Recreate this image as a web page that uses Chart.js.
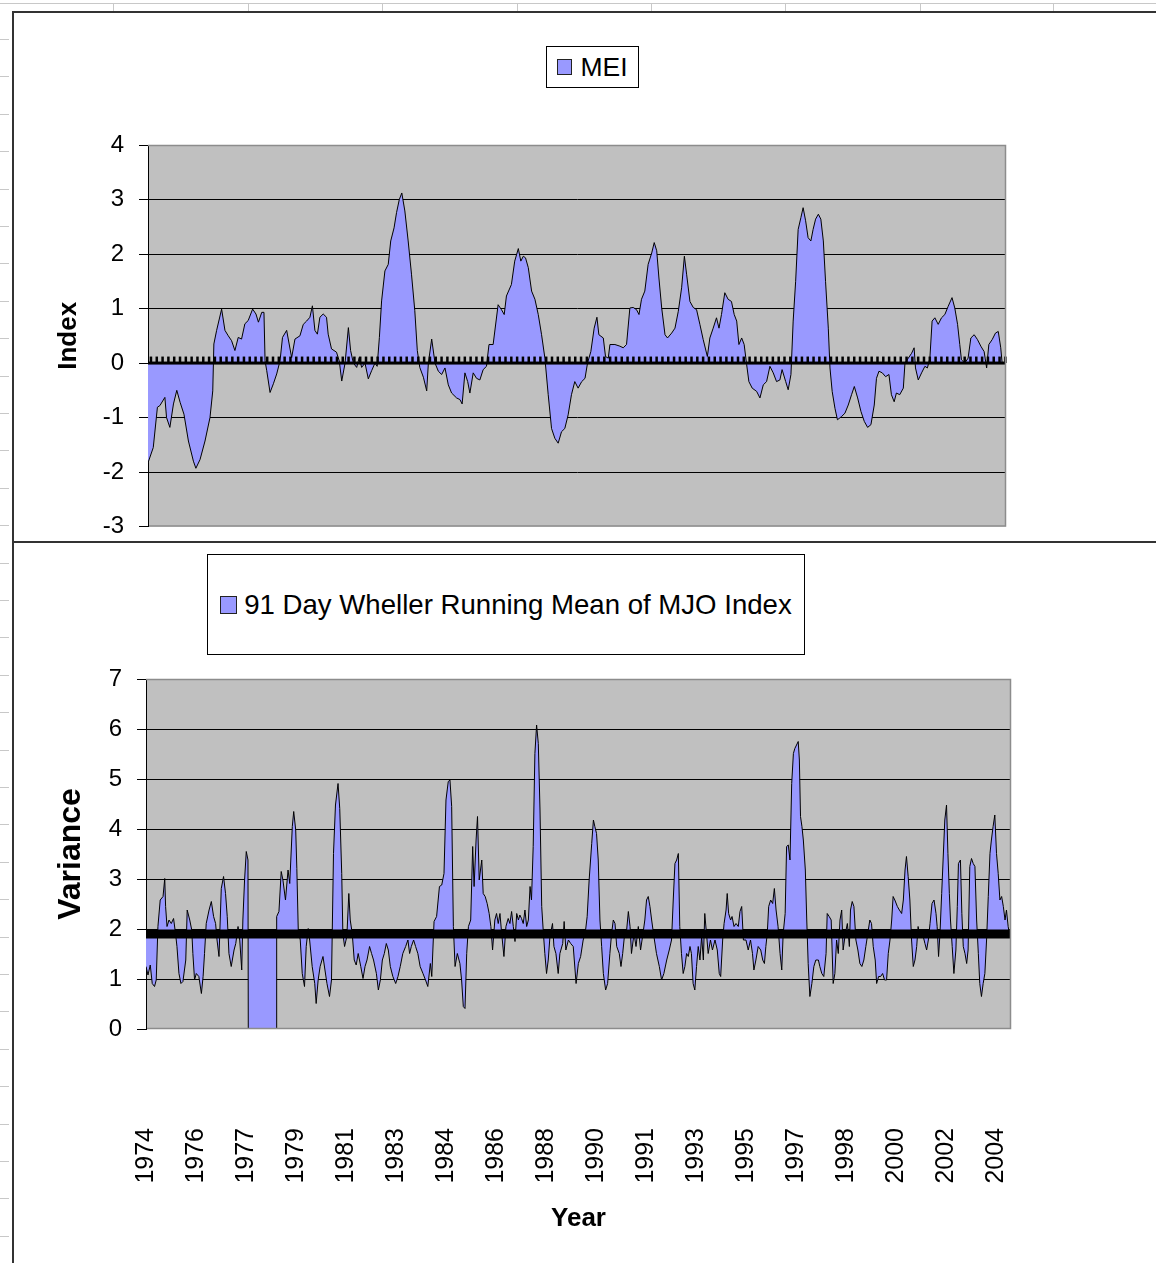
<!DOCTYPE html>
<html>
<head>
<meta charset="utf-8">
<script src="https://cdn.jsdelivr.net/npm/chart.js@4"></script>
<style>
  html, body { margin:0; padding:0; background:#fff; }
  body { width:1156px; height:1263px; position:relative; overflow:hidden; font-family:'Liberation Sans', Arial, sans-serif; }
  .abs { position:absolute; }
  .legend { position:absolute; box-sizing:border-box; border:1.5px solid #000; background:#fff;
            display:flex; align-items:center; justify-content:center; color:#000; white-space:nowrap; }
  .sw { box-sizing:border-box; border:1.5px solid #222; background:#9999FF; flex:none; }
</style>
</head>
<body>
<!-- spreadsheet background lines -->
<div class="abs" style="left:0;top:3px;width:1156px;height:1px;background:#c8c8c8"></div>
<div id="cols"></div>
<div class="abs" style="left:0;top:39px;width:9px;height:1224px;background:repeating-linear-gradient(to bottom,#c8c8c8 0px,#c8c8c8 1px,transparent 1px,transparent 37.4px)"></div>
<!-- chart frames -->
<div class="abs" style="left:12px;top:11px;width:1144px;height:2px;background:#333"></div>
<div class="abs" style="left:12px;top:11px;width:2px;height:1252px;background:#333"></div>
<div class="abs" style="left:12px;top:541px;width:1144px;height:2px;background:#333"></div>

<canvas id="mei" class="abs" style="left:14px;top:13px" width="1142" height="543"></canvas>
<canvas id="mjo" class="abs" style="left:14px;top:543px" width="1142" height="720"></canvas>

<div class="legend" style="left:546px;top:46px;width:93px;height:42px;font-size:26.5px;gap:8px">
  <div class="sw" style="width:15px;height:16px"></div><span>MEI</span>
</div>
<div class="legend" style="left:207px;top:554px;width:598px;height:101px;font-size:27.6px;gap:7px">
  <div class="sw" style="width:17px;height:18px"></div><span>91 Day Wheller Running Mean of MJO Index</span>
</div>

<script>
// ---------------- DATA ----------------
// MEI (top chart): decimal year and index value
const meiYears = [
1974.00,1974.19,1974.34,1974.43,1974.61,1974.67,1974.79,1974.92,1975.04,1975.16,1975.30,1975.46,1975.64,1975.73,1975.88,
1976.06,1976.24,1976.34,1976.38,1976.48,1976.66,1976.78,1976.90,1977.02,1977.14,1977.26,1977.38,1977.50,1977.62,1977.78,
1977.90,1977.99,1978.11,1978.19,1978.23,1978.29,1978.41,1978.53,1978.65,1978.77,1978.86,1979.01,1979.10,1979.19,1979.31,
1979.49,1979.61,1979.73,1979.85,1979.94,1980.03,1980.12,1980.21,1980.33,1980.45,1980.51,1980.63,1980.81,1980.91,1981.00,
1981.12,1981.24,1981.32,1981.42,1981.54,1981.63,1981.72,1981.84,1981.96,1982.08,1982.20,1982.28,1982.36,1982.44,1982.56,
1982.68,1982.77,1982.89,1982.98,1983.08,1983.17,1983.28,1983.40,1983.52,1983.64,1983.73,1983.82,1983.95,1984.07,1984.13,
1984.25,1984.37,1984.49,1984.61,1984.73,1984.85,1984.97,1985.15,1985.27,1985.35,1985.45,1985.55,1985.63,1985.75,1985.87,
1985.99,1986.11,1986.23,1986.32,1986.47,1986.65,1986.77,1986.87,1986.95,1987.13,1987.25,1987.38,1987.47,1987.56,1987.64,
1987.74,1987.86,1987.98,1988.10,1988.22,1988.34,1988.46,1988.58,1988.70,1988.82,1988.94,1989.06,1989.18,1989.30,1989.42,
1989.54,1989.67,1989.79,1989.88,1990.00,1990.12,1990.22,1990.29,1990.45,1990.53,1990.63,1990.69,1990.87,1991.05,1991.17,
1991.29,1991.41,1991.53,1991.65,1991.74,1991.83,1991.95,1992.07,1992.20,1992.29,1992.38,1992.46,1992.56,1992.68,1992.77,
1992.92,1993.04,1993.16,1993.28,1993.38,1993.46,1993.58,1993.70,1993.82,1993.94,1994.06,1994.21,1994.30,1994.42,1994.54,
1994.63,1994.72,1994.84,1994.96,1995.08,1995.18,1995.27,1995.35,1995.45,1995.54,1995.63,1995.71,1995.83,1995.99,1996.11,
1996.23,1996.35,1996.47,1996.59,1996.71,1996.83,1996.91,1997.04,1997.13,1997.23,1997.31,1997.40,1997.49,1997.59,1997.67,
1997.76,1997.85,1997.95,1998.03,1998.12,1998.22,1998.31,1998.40,1998.48,1998.58,1998.64,1998.72,1998.82,1998.91,1999.06,
1999.18,1999.30,1999.42,1999.52,1999.64,1999.76,1999.88,2000.00,2000.12,2000.24,2000.32,2000.41,2000.53,2000.65,2000.77,
2000.86,2000.96,2001.04,2001.16,2001.29,2001.35,2001.47,2001.59,2001.68,2001.73,2001.83,2001.95,2002.07,2002.16,2002.25,
2002.33,2002.43,2002.55,2002.67,2002.79,2002.91,2003.05,2003.15,2003.25,2003.33,2003.39,2003.51,2003.63,2003.73,2003.85,
2003.97,2004.09,2004.21,2004.30,2004.38,2004.50,2004.62,2004.72,2004.81,2004.86
];
const meiValues = [
-1.83,-1.55,-0.81,-0.78,-0.63,-1.00,-1.18,-0.75,-0.50,-0.72,-0.94,-1.43,-1.80,-1.93,-1.77,
-1.43,-1.00,-0.51,0.35,0.60,0.99,0.60,0.50,0.41,0.23,0.47,0.44,0.72,0.78,0.99,
0.90,0.75,0.93,0.93,0.04,-0.14,-0.54,-0.38,-0.20,0.04,0.47,0.60,0.35,0.10,0.44,
0.50,0.71,0.77,0.84,1.05,0.60,0.53,0.84,0.90,0.84,0.53,0.26,0.20,0.04,-0.33,
0.00,0.65,0.23,0.00,-0.08,0.10,-0.08,0.00,-0.29,-0.14,0.00,-0.06,0.47,1.14,1.69,
1.81,2.24,2.48,2.76,3.00,3.12,2.79,2.24,1.63,0.96,0.23,-0.08,-0.26,-0.51,0.00,
0.44,0.00,-0.15,-0.21,-0.09,-0.40,-0.55,-0.64,-0.67,-0.75,-0.18,-0.34,-0.55,-0.18,-0.28,
-0.31,-0.12,-0.06,0.34,0.34,1.07,0.98,0.89,1.23,1.44,1.87,2.10,1.87,1.96,1.93,
1.75,1.32,1.17,0.89,0.52,0.09,-0.58,-1.20,-1.38,-1.47,-1.26,-1.20,-0.95,-0.58,-0.34,
-0.46,-0.34,-0.28,0.00,0.21,0.64,0.84,0.52,0.46,0.12,0.09,0.34,0.34,0.31,0.28,
0.34,1.01,1.02,0.98,0.89,1.17,1.32,1.81,2.02,2.21,2.06,1.56,1.01,0.52,0.46,
0.55,0.64,0.95,1.38,1.96,1.63,1.13,1.02,0.98,0.71,0.43,0.12,0.46,0.64,0.83,
0.64,0.89,1.29,1.17,1.13,0.89,0.77,0.34,0.46,0.34,-0.03,-0.34,-0.46,-0.52,-0.64,
-0.40,-0.34,-0.06,-0.18,-0.34,-0.31,-0.12,-0.34,-0.49,-0.21,0.77,1.50,2.45,2.67,2.85,
2.61,2.30,2.24,2.45,2.64,2.73,2.64,2.24,1.50,0.64,-0.09,-0.52,-0.83,-1.04,-0.98,
-0.92,-0.77,-0.58,-0.43,-0.64,-0.89,-1.07,-1.18,-1.13,-0.77,-0.28,-0.15,-0.18,-0.25,-0.21,
-0.58,-0.71,-0.55,-0.58,-0.46,0.00,0.09,0.18,0.28,-0.09,-0.31,-0.18,-0.06,-0.09,0.09,
0.77,0.83,0.71,0.83,0.89,1.04,1.20,1.01,0.71,0.34,0.06,0.00,0.09,0.46,0.52,
0.43,0.31,0.21,-0.09,0.34,0.43,0.55,0.58,0.28,0.00
];

// 91-day running mean of MJO index variance (bottom chart)
const mjoYears = [
1974.45,1974.52,1974.60,1974.67,1974.75,1974.81,1974.87,1974.95,1975.05,1975.11,1975.14,1975.19,1975.26,1975.34,1975.42,
1975.49,1975.54,1975.61,1975.68,1975.75,1975.85,1975.90,1975.99,1976.06,1976.10,1976.16,1976.22,1976.31,1976.40,1976.46,
1976.51,1976.57,1976.67,1976.75,1976.83,1976.90,1976.95,1977.02,1977.10,1977.18,1977.25,1977.31,1977.37,1977.45,1977.55,
1977.61,1977.69,1977.75,1977.82,1977.86,1977.92,1977.98,1978.04,1978.05,1979.04,1979.05,1979.13,1979.21,1979.27,1979.36,
1979.45,1979.51,1979.60,1979.65,1979.72,1979.76,1979.81,1979.88,1979.95,1980.03,1980.09,1980.16,1980.21,1980.30,1980.39,
1980.44,1980.51,1980.58,1980.68,1980.75,1980.82,1980.91,1980.98,1981.05,1981.12,1981.21,1981.27,1981.34,1981.38,1981.44,
1981.52,1981.59,1981.64,1981.71,1981.78,1981.85,1981.92,1982.01,1982.09,1982.16,1982.23,1982.32,1982.39,1982.46,1982.56,
1982.63,1982.70,1982.77,1982.84,1982.91,1982.98,1983.05,1983.14,1983.24,1983.32,1983.40,1983.49,1983.59,1983.67,1983.73,
1983.79,1983.87,1983.94,1984.02,1984.10,1984.20,1984.29,1984.37,1984.46,1984.51,1984.59,1984.68,1984.78,1984.86,1984.94,
1985.01,1985.09,1985.15,1985.21,1985.27,1985.33,1985.41,1985.50,1985.56,1985.62,1985.68,1985.74,1985.80,1985.88,1985.95,
1986.00,1986.07,1986.12,1986.18,1986.27,1986.32,1986.39,1986.46,1986.53,1986.59,1986.65,1986.73,1986.79,1986.85,1986.91,
1986.97,1987.05,1987.12,1987.20,1987.26,1987.32,1987.38,1987.44,1987.50,1987.56,1987.61,1987.67,1987.73,1987.79,1987.85,
1987.91,1987.97,1988.02,1988.08,1988.14,1988.20,1988.26,1988.32,1988.38,1988.44,1988.49,1988.55,1988.61,1988.67,1988.76,
1988.81,1988.88,1988.96,1989.02,1989.12,1989.17,1989.23,1989.32,1989.40,1989.49,1989.59,1989.67,1989.75,1989.84,1989.91,
1989.98,1990.05,1990.14,1990.20,1990.25,1990.31,1990.37,1990.43,1990.49,1990.55,1990.63,1990.70,1990.78,1990.84,1990.90,
1990.96,1991.02,1991.11,1991.17,1991.23,1991.29,1991.37,1991.43,1991.49,1991.54,1991.63,1991.70,1991.78,1991.86,1991.93,
1992.01,1992.07,1992.13,1992.19,1992.25,1992.33,1992.42,1992.52,1992.60,1992.68,1992.78,1992.87,1992.95,1993.01,1993.07,
1993.13,1993.19,1993.24,1993.30,1993.36,1993.42,1993.48,1993.54,1993.60,1993.65,1993.71,1993.77,1993.83,1993.89,1993.95,
1994.01,1994.07,1994.12,1994.18,1994.24,1994.32,1994.39,1994.48,1994.56,1994.63,1994.68,1994.75,1994.80,1994.87,1994.91,
1994.96,1995.03,1995.08,1995.15,1995.22,1995.30,1995.36,1995.42,1995.48,1995.57,1995.65,1995.73,1995.80,1995.85,1995.92,
1996.00,1996.09,1996.16,1996.22,1996.27,1996.32,1996.37,1996.44,1996.51,1996.57,1996.63,1996.70,1996.77,1996.83,1996.88,
1996.95,1997.00,1997.06,1997.12,1997.18,1997.24,1997.29,1997.35,1997.41,1997.45,1997.49,1997.54,1997.59,1997.66,1997.71,
1997.76,1997.82,1997.89,1997.96,1998.03,1998.12,1998.17,1998.24,1998.31,1998.39,1998.43,1998.50,1998.57,1998.64,1998.70,
1998.76,1998.82,1998.88,1998.94,1998.99,1999.07,1999.14,1999.21,1999.25,1999.31,1999.37,1999.44,1999.51,1999.58,1999.65,
1999.72,1999.79,1999.86,1999.93,1999.99,2000.05,2000.12,2000.17,2000.24,2000.31,2000.38,2000.45,2000.52,2000.58,2000.64,
2000.70,2000.75,2000.81,2000.90,2000.97,2001.05,2001.11,2001.17,2001.22,2001.28,2001.34,2001.40,2001.46,2001.52,2001.58,
2001.63,2001.69,2001.75,2001.81,2001.87,2001.93,2001.99,2002.05,2002.12,2002.19,2002.26,2002.30,2002.35,2002.40,2002.46,
2002.51,2002.57,2002.63,2002.68,2002.73,2002.77,2002.83,2002.89,2002.96,2003.01,2003.05,2003.12,2003.17,2003.22,2003.28,
2003.34,2003.39,2003.45,2003.51,2003.57,2003.63,2003.69,2003.75,2003.80,2003.86,2003.92,2003.98,2004.04,2004.10,2004.16,
2004.21,2004.27,2004.33,2004.39,2004.45,2004.51,2004.57,2004.63,2004.69,2004.74,2004.80,2004.86,2004.90
];
const mjoValues = [
1.25,1.08,1.28,0.91,0.85,0.98,2.05,2.58,2.65,3.01,2.45,2.05,2.18,2.11,2.21,
1.91,1.65,1.11,0.91,0.95,1.38,2.38,2.18,1.98,1.51,0.98,1.11,1.05,0.71,1.05,
1.51,2.11,2.38,2.55,2.25,2.11,1.78,1.45,2.81,3.05,2.71,2.25,1.51,1.25,1.58,
1.71,2.05,1.78,1.18,2.18,2.98,3.55,3.38,0.00,0.00,2.25,2.35,3.15,2.98,2.58,
3.18,2.91,4.05,4.35,3.98,3.21,1.98,1.78,1.11,0.85,1.65,2.01,1.78,1.25,0.91,
0.51,0.98,1.25,1.45,1.18,0.91,0.65,0.98,3.51,4.48,4.91,4.41,3.11,1.91,1.65,
1.85,2.71,2.18,1.91,1.38,1.28,1.51,1.25,1.01,1.25,1.38,1.65,1.51,1.38,1.11,
0.78,0.98,1.38,1.51,1.71,1.58,1.25,1.05,0.91,1.05,1.25,1.51,1.65,1.78,1.51,
1.65,1.78,1.65,1.51,1.25,1.11,0.98,0.85,1.31,1.05,2.15,2.25,2.85,2.88,3.11,
4.58,4.95,4.98,4.45,2.05,1.25,1.51,1.31,0.98,0.45,0.41,1.51,2.05,2.18,3.65,
2.85,3.78,4.25,2.98,3.38,2.71,2.65,2.51,2.31,2.05,1.58,2.18,2.31,2.11,2.31,
1.91,1.45,2.05,2.21,2.11,2.35,2.05,1.75,2.31,2.18,2.28,2.21,2.11,2.38,2.05,
2.18,2.85,2.58,3.65,5.51,6.08,5.71,4.38,2.45,1.91,1.51,1.11,1.38,1.85,2.11,
1.65,1.51,1.11,1.51,1.71,2.15,1.58,1.78,1.71,1.65,0.91,1.31,1.45,1.78,1.91,
2.25,2.98,3.71,4.18,4.05,3.91,3.38,2.18,1.65,1.11,0.78,0.91,1.51,1.91,2.18,
2.11,1.65,1.51,1.25,1.51,1.85,1.98,2.35,2.05,1.51,1.91,1.65,2.05,1.58,1.85,
2.18,2.58,2.65,2.45,2.18,1.85,1.51,1.25,0.98,1.11,1.38,1.58,1.78,2.58,3.31,
3.38,3.51,2.05,1.51,1.11,1.25,1.51,1.45,1.65,1.51,0.91,0.78,1.25,1.65,1.38,
1.85,1.38,2.31,1.91,1.51,1.78,1.58,1.78,1.58,1.11,1.05,1.78,2.11,2.38,2.71,
2.31,2.18,2.25,2.05,2.11,2.05,2.35,2.45,1.78,1.78,1.58,1.78,1.51,1.18,1.38,
1.65,1.58,1.38,1.31,1.65,1.91,2.45,2.58,2.51,2.81,2.38,2.05,1.51,1.18,1.91,
2.31,3.65,3.68,3.38,4.91,5.51,5.61,5.68,5.75,5.38,4.25,4.05,3.78,3.18,2.18,
1.31,0.65,0.91,1.25,1.38,1.38,1.25,1.11,1.05,1.51,2.31,2.25,2.18,0.91,1.11,
1.78,1.51,2.18,2.38,1.58,1.91,2.11,1.65,2.38,2.55,2.45,1.78,1.58,1.31,1.25,
1.38,1.65,1.91,2.18,2.11,1.65,1.38,0.91,1.05,1.05,1.11,0.98,0.98,1.51,1.78,
2.18,2.65,2.58,2.45,2.38,2.31,2.58,3.18,3.45,3.05,2.58,1.78,1.25,1.38,1.65,
2.05,1.85,1.91,1.85,1.71,1.58,1.78,2.11,2.51,2.58,2.31,2.05,1.45,1.91,2.71,
3.38,4.18,4.48,3.51,2.71,2.18,1.65,1.11,1.58,2.45,3.31,3.38,2.31,1.65,1.51,
1.31,1.58,3.25,3.41,3.31,3.25,2.18,1.51,0.91,0.65,0.91,1.11,1.78,2.65,3.51,
3.78,4.05,4.28,3.51,3.11,2.58,2.65,2.45,2.18,2.38,2.05,1.85,1.78
];
const mjoAxisCross = 1.9;            // category axis crosses the value axis here
const mjoTickLabels = ['1974','1976','1977','1979','1981','1983','1984','1986','1988',
                       '1990','1991','1993','1995','1997','1998','2000','2002','2004'];
const mjoTickStart = 1974.45, mjoTickStep = 1.76;
const meiAxisTickStep = 0.21;

// ---------------- CHARTS ----------------
const FAM = "'Liberation Sans', Arial, sans-serif";
Chart.defaults.font.family = FAM;
Chart.defaults.color = '#000';

const plotBg = {
  id: 'plotBg',
  beforeDraw(chart) {
    const {ctx, chartArea: a} = chart;
    ctx.save(); ctx.fillStyle = '#C0C0C0';
    ctx.fillRect(a.left, a.top, a.right - a.left, a.bottom - a.top); ctx.restore();
  },
  afterDraw(chart) {
    const {ctx, chartArea: a} = chart;
    ctx.save(); ctx.strokeStyle = '#8c8c8c'; ctx.lineWidth = 1.5;
    ctx.beginPath();
    ctx.moveTo(a.left, a.top + 0.5); ctx.lineTo(a.right - 0.5, a.top + 0.5);
    ctx.lineTo(a.right - 0.5, a.bottom - 0.5); ctx.lineTo(a.left + 1, a.bottom - 0.5);
    ctx.stroke(); ctx.restore();
  }
};

const zeroAxis = {
  id: 'zeroAxis',
  afterDatasetsDraw(chart) {
    const {ctx, chartArea: a, scales: {x, y}} = chart;
    const y0 = y.getPixelForValue(0);
    ctx.save(); ctx.fillStyle = '#000';
    ctx.fillRect(a.left, y0 - 1.5, a.right - a.left, 3);
    for (let t = x.min + meiAxisTickStep / 2; t < x.max; t += meiAxisTickStep) {
      const px = x.getPixelForValue(t);
      ctx.fillRect(px - 1.2, y0 - 6.5, 2.5, 6.5);
    }
    ctx.restore();
  }
};

const crossAxis = {
  id: 'crossAxis',
  afterDatasetsDraw(chart) {
    const {ctx, chartArea: a, scales: {y}} = chart;
    const yb = y.getPixelForValue(mjoAxisCross);
    ctx.save(); ctx.fillStyle = '#000';
    ctx.fillRect(a.left, yb - 4.5, a.right - a.left, 9);
    ctx.restore();
  }
};

function gridColor(min, max) {
  return c => (c.tick.value === min || c.tick.value === max) ? 'rgba(0,0,0,0)' : '#000';
}

new Chart(document.getElementById('mei'), {
  type: 'line',
  data: { datasets: [{
    label: 'MEI',
    data: meiYears.map((t, i) => ({x: t, y: meiValues[i]})),
    borderColor: '#000', borderWidth: 1, backgroundColor: '#9999FF',
    fill: {value: 0}, pointRadius: 0, tension: 0
  }]},
  options: {
    responsive: false, animation: false, devicePixelRatio: 1,
    layout: { padding: {top: 132, right: 150, bottom: 1, left: 0} },
    plugins: { legend: {display: false}, tooltip: {enabled: false} },
    scales: {
      x: { type: 'linear', min: 1974, max: 2005, display: false },
      y: {
        min: -3, max: 4,
        ticks: { stepSize: 1, padding: 15, font: {size: 24}, color: '#000' },
        grid: { color: gridColor(-3, 4), tickColor: '#000', tickLength: 9, lineWidth: 1 },
        border: { color: '#000', width: 1 },
        title: { display: true, text: 'Index', color: '#000', font: {size: 26, weight: 'bold'}, padding: {top: 39, bottom: 0} },
        afterFit(s) { s.width = 134; }
      }
    }
  },
  plugins: [plotBg, zeroAxis]
});

new Chart(document.getElementById('mjo'), {
  type: 'line',
  data: { datasets: [{
    label: '91 Day Wheller Running Mean of MJO Index',
    data: mjoYears.map((t, i) => ({x: t, y: mjoValues[i]})),
    borderColor: '#000', borderWidth: 1, backgroundColor: '#9999FF',
    fill: {value: mjoAxisCross}, pointRadius: 0, tension: 0
  }]},
  options: {
    responsive: false, animation: false, devicePixelRatio: 1,
    layout: { padding: {top: 136, right: 145, bottom: 0, left: 0} },
    plugins: { legend: {display: false}, tooltip: {enabled: false} },
    scales: {
      x: {
        type: 'linear', min: 1974.45, max: 2004.90,
        afterBuildTicks(s) { s.ticks = mjoTickLabels.map((l, i) => ({value: mjoTickStart + i * mjoTickStep})); },
        ticks: { autoSkip: false, maxRotation: 90, minRotation: 90, padding: 99, font: {size: 25}, color: '#000',
                 callback: (v, i) => mjoTickLabels[i] },
        grid: { display: false, drawTicks: false },
        border: { display: false },
        title: { display: true, text: 'Year', color: '#000', font: {size: 26, weight: 'bold'}, padding: {top: 0, bottom: 29} },
        afterFit(s) { s.height = 234; }
      },
      y: {
        min: 0, max: 7,
        ticks: { stepSize: 1, padding: 15, font: {size: 24}, color: '#000' },
        grid: { color: gridColor(0, 7), tickColor: '#000', tickLength: 9, lineWidth: 1 },
        border: { color: '#000', width: 1 },
        title: { display: true, text: 'Variance', color: '#000', font: {size: 32, weight: 'bold'}, padding: {top: 38, bottom: 0} },
        afterFit(s) { s.width = 132; }
      }
    }
  },
  plugins: [plotBg, crossAxis]
});

// spreadsheet column separators in the header strip
(function () {
  const xs = [113, 248, 382, 517, 651, 785, 920, 1053];
  const host = document.getElementById('cols');
  xs.forEach(x => {
    const d = document.createElement('div');
    d.className = 'abs';
    d.style.cssText = `left:${x}px;top:3px;width:1px;height:9px;background:#c8c8c8`;
    host.appendChild(d);
  });
})();
</script>
</body>
</html>
